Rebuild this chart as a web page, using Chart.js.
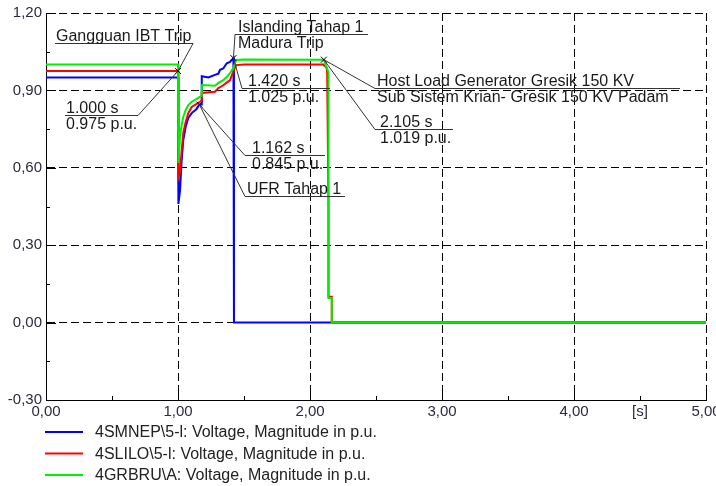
<!DOCTYPE html>
<html>
<head>
<meta charset="utf-8">
<script src="https://cdn.jsdelivr.net/npm/chart.js@4.4.0/dist/chart.umd.min.js"></script>
<style>
  html, body { margin: 0; padding: 0; background: #fff; }
  #wrap { width: 716px; height: 486px; }
</style>
</head>
<body>
<div id="wrap"><canvas id="c" width="716" height="486"></canvas></div>
<script>
// series labels
const seriesNames = [
  '4SMNEP\\5-l: Voltage, Magnitude in p.u.',
  '4SLILO\\5-l: Voltage, Magnitude in p.u.',
  '4GRBRU\\A: Voltage, Magnitude in p.u.'
];
const seriesColors = ['#0000ff', '#ff0000', '#00f000'];

// time [s] / voltage [p.u.]
const blueT = [0, 1.0, 1.003, 1.015, 1.028, 1.040, 1.058, 1.078, 1.104, 1.141, 1.162, 1.178, 1.18, 1.23, 1.28, 1.306, 1.318, 1.343, 1.369, 1.394, 1.42, 1.424, 1.424, 5.0];
const blueV = [0.95, 0.95, 0.46, 0.51, 0.63, 0.707, 0.758, 0.793, 0.812, 0.828, 0.845, 0.845, 0.955, 0.95, 0.96, 0.965, 0.98, 0.985, 1.005, 1.01, 1.025, 1.025, 0, 0];

const redT = [0, 1.0, 1.003, 1.015, 1.028, 1.040, 1.058, 1.078, 1.104, 1.141, 1.167, 1.178, 1.18, 1.28, 1.306, 1.343, 1.369, 1.394, 1.42, 1.44, 1.5, 2.1, 2.125, 2.13, 2.14, 2.14, 2.165, 2.165, 5.0];
const redV = [0.975, 0.975, 0.56, 0.58, 0.669, 0.735, 0.778, 0.812, 0.836, 0.848, 0.856, 0.86, 0.89, 0.895, 0.909, 0.92, 0.93, 0.94, 0.975, 0.998, 1.0, 1.0, 0.99, 0.97, 0.46, 0.1, 0.1, 0, 0];

const greenT = [0, 1.0, 1.003, 1.015, 1.028, 1.040, 1.058, 1.078, 1.104, 1.141, 1.167, 1.178, 1.18, 1.28, 1.306, 1.343, 1.369, 1.394, 1.42, 1.44, 1.5, 2.105, 2.125, 2.14, 2.14, 2.165, 2.165, 5.0];
const greenV = [1.0, 1.0, 0.62, 0.72, 0.766, 0.797, 0.824, 0.843, 0.856, 0.867, 0.876, 0.88, 0.921, 0.918, 0.929, 0.94, 0.952, 0.967, 0.987, 1.018, 1.02, 1.019, 0.99, 0.97, 0.095, 0.095, 0, 0];

// marked points
const markT = [1.0, 1.42, 1.162, 2.105];
const markV = [0.975, 1.025, 0.845, 1.019];

// text boxes: underline start (t, v), underline width, leader end, text lines
const notes = [
  { mark: 0, t: 0.068, v: 1.083, w: 138, from: 'right', dx: 1, lines: ['Gangguan IBT Trip'] },
  { mark: 0, t: 0.144, v: 0.805, w: 73, from: 'right', dx: 1, lines: ['1.000 s', '0.975 p.u.'] },
  { mark: 1, t: 1.432, v: 1.118, w: 133, from: 'left', dx: 3, lines: ['Islanding Tahap 1', 'Madura Trip'] },
  { mark: 1, t: 1.485, v: 0.909, w: 88, from: 'left', dx: 6, lines: ['1.420 s', '1.025 p.u.'] },
  { mark: 2, t: 1.508, v: 0.648, w: 80, from: 'left', dx: 7, lines: ['1.162 s', '0.845 p.u.'] },
  { mark: 2, t: 1.508, v: 0.49, w: 100, from: 'left', dx: 2, lines: ['UFR Tahap 1'] },
  { mark: 3, t: 2.492, v: 0.909, w: 305, from: 'left', dx: 2, lines: ['Host Load Generator Gresik 150 KV', 'Sub Sistem Krian- Gresik 150 KV Padam'] },
  { mark: 3, t: 2.492, v: 0.75, w: 78, from: 'left', dx: 5, lines: ['2.105 s', '1.019 p.u.'] }
];

const toPoints = (ts, vs) => ts.map((t, i) => ({ x: t, y: vs[i] }));
const isMult = (v, s) => Math.abs(v / s - Math.round(v / s)) < 1e-6;
const fmt = v => v.toFixed(2).replace('.', ',');
const FONT = '"Liberation Sans", Arial, sans-serif';

const minorTicks = {
  id: 'minorTicks',
  beforeDatasetsDraw(chart) {
    const { ctx, chartArea: a, scales: { x, y } } = chart;
    ctx.save();
    ctx.strokeStyle = '#000';
    ctx.lineWidth = 1;
    ctx.beginPath();
    for (let v = -0.3; v <= 1.2001; v += 0.15) {
      const py = Math.round(y.getPixelForValue(v)) + 0.5;
      const len = isMult(v, 0.3) ? 10 : 4;
      ctx.moveTo(a.left, py);
      ctx.lineTo(a.left + len, py);
    }
    for (let t = 0; t <= 5.0001; t += 0.5) {
      const px = Math.round(x.getPixelForValue(t)) + 0.5;
      const len = isMult(t, 1) ? 7 : 4;
      ctx.moveTo(px, a.bottom);
      ctx.lineTo(px, a.bottom - len);
    }
    ctx.stroke();
    ctx.restore();
  }
};

const notesPlugin = {
  id: 'notes',
  afterDatasetsDraw(chart) {
    const { ctx, scales: { x, y } } = chart;
    ctx.save();
    ctx.strokeStyle = '#333';
    ctx.lineWidth = 1;
    // markers
    markT.forEach((t, i) => {
      const px = x.getPixelForValue(t), py = y.getPixelForValue(markV[i]);
      ctx.beginPath();
      ctx.moveTo(px - 3, py - 3); ctx.lineTo(px + 3, py + 3);
      ctx.moveTo(px + 3, py - 3); ctx.lineTo(px - 3, py + 3);
      ctx.strokeStyle = '#000';
      ctx.stroke();
    });
    ctx.font = '16px ' + FONT;
    ctx.fillStyle = '#1a1a1a';
    ctx.textBaseline = 'alphabetic';
    notes.forEach(n => {
      const x0 = Math.round(x.getPixelForValue(n.t));
      const y0 = Math.round(y.getPixelForValue(n.v)) + 0.5;
      const mx = x.getPixelForValue(markT[n.mark]);
      const my = y.getPixelForValue(markV[n.mark]);
      const ex = n.from === 'left' ? x0 : x0 + n.w;
      ctx.strokeStyle = '#333';
      ctx.beginPath();
      ctx.moveTo(x0, y0);
      ctx.lineTo(x0 + n.w, y0);
      ctx.moveTo(ex, y0);
      ctx.lineTo(mx, my);
      ctx.stroke();
      ctx.fillText(n.lines[0], x0 + n.dx, y0 - 3);
      if (n.lines[1]) ctx.fillText(n.lines[1], x0 + n.dx, y0 + 13);
    });
    ctx.restore();
  }
};

const legendPlugin = {
  id: 'plainLegend',
  afterDraw(chart) {
    const { ctx } = chart;
    ctx.save();
    ctx.font = '16px ' + FONT;
    ctx.textBaseline = 'middle';
    ctx.fillStyle = '#222';
    seriesNames.forEach((name, i) => {
      const ly = 432 + i * 21.5;
      ctx.strokeStyle = seriesColors[i];
      ctx.lineWidth = 2;
      ctx.beginPath();
      ctx.moveTo(45, ly);
      ctx.lineTo(83, ly);
      ctx.stroke();
      ctx.fillText(name, 95, ly + 1);
    });
    ctx.restore();
  }
};

const allT = [blueT, redT, greenT];
const allV = [blueV, redV, greenV];

new Chart(document.getElementById('c'), {
  type: 'line',
  data: {
    datasets: seriesNames.map((name, i) => ({
      label: name,
      data: toPoints(allT[i], allV[i]),
      borderColor: seriesColors[i],
      borderWidth: 2,
      pointRadius: 0,
      tension: 0,
      fill: false,
      order: 3 - i
    }))
  },
  options: {
    responsive: false,
    animation: false,
    devicePixelRatio: 1,
    layout: { padding: { top: 13, right: 10, left: 0, bottom: 0 } },
    plugins: { legend: { display: false }, tooltip: { enabled: false } },
    scales: {
      x: {
        type: 'linear',
        min: 0,
        max: 5,
        afterFit(s) { s.height = 86; s.paddingLeft = 0; s.paddingRight = 0; },
        ticks: {
          stepSize: 0.5,
          autoSkip: false,
          maxRotation: 0,
          padding: 3,
          color: '#2b2b3b',
          font: { family: FONT, size: 15 },
          callback: v => isMult(v, 1) ? fmt(v) : (Math.abs(v - 4.5) < 1e-6 ? '[s]' : '')
        },
        grid: {
          drawTicks: false,
          color: c => (c.tick && isMult(c.tick.value, 1)) ? '#000' : 'rgba(0,0,0,0)',
          lineWidth: 1
        },
        border: { display: true, color: '#000', width: 1, dash: [8, 4] }
      },
      y: {
        type: 'linear',
        min: -0.3,
        max: 1.2,
        afterFit(s) { s.width = 46; s.paddingTop = 0; s.paddingBottom = 0; },
        ticks: {
          stepSize: 0.15,
          autoSkip: false,
          padding: 4,
          color: '#2b2b3b',
          font: { family: FONT, size: 15 },
          callback: v => isMult(v, 0.3) ? fmt(v) : ''
        },
        grid: {
          drawTicks: false,
          color: c => (c.tick && isMult(c.tick.value, 0.3)) ? '#000' : 'rgba(0,0,0,0)',
          lineWidth: 1
        },
        border: { display: true, color: '#000', width: 1, dash: [8, 4] }
      }
    }
  },
  plugins: [minorTicks, notesPlugin, legendPlugin]
});
</script>
</body>
</html>
